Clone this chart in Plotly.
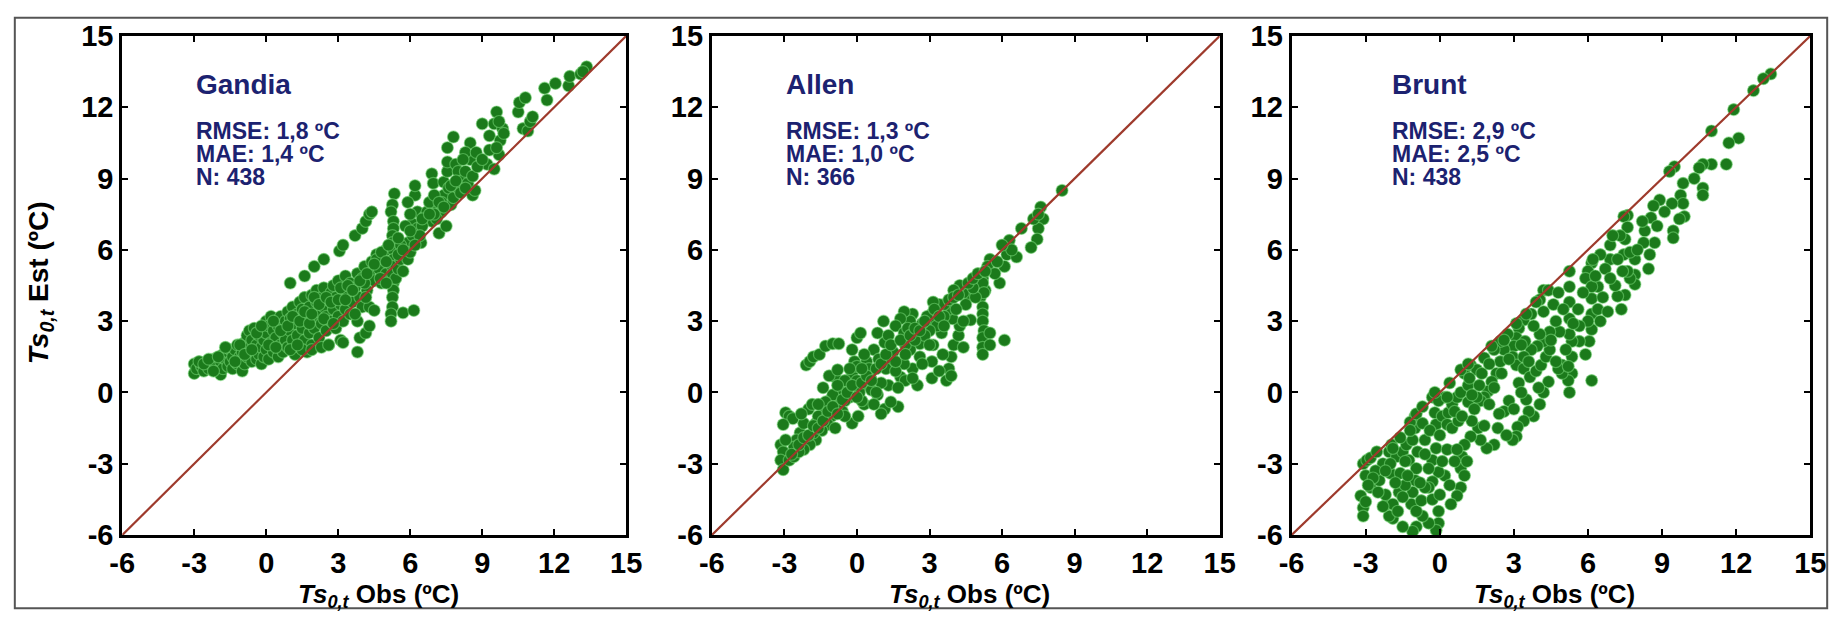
import plotly.graph_objects as go

# ---------------- data ----------------
gandia_pts = [
    (-3.0,1.2),(-3.0,0.8),(-2.9,1.0),(-2.7,1.1),(-2.6,0.9),(-2.5,1.3),(-2.4,1.0),(-2.3,1.2),(-2.2,1.4),(-2.1,1.1),
    (-2.0,0.9),(-1.9,0.75),(-1.9,1.3),(-1.8,1.6),(-1.8,1.0),(-1.7,1.4),(-1.6,1.7),(-1.6,1.1),(-1.5,1.3),(-1.5,1.8),
    (-1.4,1.0),(-1.4,1.5),(-1.3,1.8),(-1.2,1.2),(-1.2,2.0),(-1.1,1.5),(-1.0,0.9),(-1.0,1.7),(-0.9,1.2),(-0.9,2.1),
    (-0.8,1.5),(-0.8,2.4),(-0.7,1.9),(-0.7,2.6),(-0.6,1.3),(-0.6,2.2),(-0.5,1.7),(-0.5,2.7),(-0.4,1.4),(-0.4,2.0),
    (-0.3,1.6),(-0.3,2.4),(-0.2,1.2),(-0.2,1.9),(-0.1,2.2),(-0.1,1.5),(0.0,1.8),(0.0,2.5),(0.0,3.0),(0.1,1.4),
    (0.1,2.8),(0.2,2.1),(0.2,3.2),(0.3,1.7),(0.3,2.6),(0.4,2.3),(0.4,3.0),(0.5,1.5),(0.5,2.8),(0.6,2.0),
    (0.6,3.2),(0.7,2.5),(0.7,1.7),(0.8,3.0),(0.8,2.2),(0.9,3.4),(0.9,1.9),(1.0,2.6),(1.0,3.1),(1.1,2.2),
    (1.1,3.6),(1.2,1.6),(1.2,2.9),(1.3,3.3),(1.3,2.4),(1.4,3.8),(1.4,1.9),(1.5,2.7),(1.5,3.5),(1.6,2.2),
    (1.6,4.0),(1.7,3.0),(1.7,1.7),(1.8,3.6),(1.8,2.5),(1.9,4.1),(1.9,2.0),(2.0,3.2),(2.0,2.7),(2.1,3.8),
    (2.1,4.3),(2.2,2.3),(2.2,3.4),(2.3,4.0),(2.3,2.9),(2.4,3.6),(2.4,4.4),(2.5,2.6),(2.5,3.2),(2.6,2.0),
    (2.6,3.9),(2.7,4.2),(2.7,3.0),(2.8,3.5),(2.8,4.5),(2.9,2.7),(2.9,4.0),(3.0,3.2),(3.0,4.7),(3.1,3.7),
    (3.1,2.2),(3.2,4.3),(3.2,3.0),(3.3,3.5),(3.3,4.9),(3.4,4.1),(3.5,3.3),(3.5,4.6),(3.6,3.8),(3.7,4.4),
    (3.8,3.0),(3.8,5.0),(3.9,4.0),(4.0,3.6),(4.0,4.8),(4.1,5.3),(4.2,4.3),(4.3,5.0),(4.4,5.5),(4.5,4.7),
    (4.6,5.8),(4.7,5.2),(4.8,4.6),(4.9,5.6),(5.0,6.0),(5.0,5.0),
    (1.5,1.8),(1.9,1.8),(2.3,1.9),(2.6,2.0),(3.2,2.1),(3.8,1.7),(3.9,2.3),(4.15,2.5),(4.3,2.8),(4.3,3.6),
    (4.5,3.45),(4.15,4.0),(4.1,4.6),
    (1.0,4.6),(1.6,4.9),(2.0,5.3),(2.4,5.6),(3.05,5.95),(3.2,6.2),(3.7,6.6),(4.0,6.9),(4.15,7.2),(4.3,7.5),(4.4,7.6),
    (5.34,8.36),(5.26,7.9),(5.2,7.6),(5.3,7.2),(5.3,6.9),(5.26,6.6),(5.26,6.3),(5.3,6.0),(5.3,5.6),(5.26,5.3),
    (5.26,5.0),(5.3,4.6),(5.3,4.3),(5.26,4.0),(5.26,3.6),(5.2,3.3),(5.2,3.0),(5.7,3.35),(6.15,3.45),(5.4,4.8),
    (5.5,5.2),(5.6,5.6),
    (4.6,5.6),(4.75,4.8),(5.0,4.6),(5.7,5.1),(5.9,5.6),(5.9,6.3),(6.1,6.6),(6.1,7.1),(6.3,7.6),(6.2,8.3),
    (6.2,8.7),(5.9,8.0),(6.45,6.3),(6.6,7.4),(6.7,7.6),(6.9,7.2),(6.96,7.9),(6.9,9.2),(6.96,8.8),(7.2,6.7),
    (7.3,7.6),(7.4,8.3),(7.4,8.85),(7.55,9.3),(7.55,9.7),(7.55,10.3),(7.8,10.75),(7.9,9.6),(7.5,7.0),(7.7,7.9),
    (8.0,9.3),(8.15,8.9),(8.3,9.3),(8.5,10.5),(8.5,9.8),(8.6,8.3),(8.7,8.5),(8.4,8.8),(8.3,10.1),(8.75,10.1),
    (9.0,11.3),(9.2,9.6),(9.3,10.8),(9.5,11.3),(9.5,9.4),(9.6,11.8),(9.7,10.0),(9.75,10.6),(9.85,11.1),(9.7,11.4),
    (6.0,5.9),(6.3,6.9),(6.5,7.0),(6.8,8.0),(7.1,7.3),(7.3,8.0),(7.6,8.6),(7.8,8.2),(8.0,8.6),(8.2,9.8),
    (7.0,7.5),(5.6,6.2),(5.8,7.0),(6.0,7.5),(5.5,5.8),(6.4,6.6),
    (10.5,11.8),(10.55,12.2),(10.8,12.4),(10.7,11.1),(10.9,11.0),(11.0,11.4),(11.1,11.6),(11.6,12.8),(11.7,12.3),
    (12.05,13.0),(12.6,12.9),(12.65,13.3),(13.1,13.4),(13.35,13.7),(13.2,13.5),
    (-2.8,1.3),(-2.6,1.2),(-2.4,1.4),(-2.2,0.9),(-2.0,1.5),(-1.7,1.9),(-1.3,1.3),(-1.1,2.0),(-0.9,1.6),(-0.6,1.8),
    (-0.4,2.5),(-0.2,2.8),(0.1,2.0),(0.3,3.0),(0.4,1.9),(0.6,2.6),(0.9,2.8),(1.0,1.8),(1.1,3.2),(1.3,2.0),
    (1.4,3.0),(1.6,3.4),(1.8,2.9),(1.9,3.3),(2.0,4.0),(2.2,3.7),(2.4,3.1),(2.5,4.0),(2.7,3.8),(2.8,2.9),
    (3.0,3.9),(3.1,4.4),(3.3,3.9),(3.4,4.5),(3.6,4.3),(3.7,3.3),(3.9,4.7),(4.2,5.0),(4.5,5.4),(4.8,5.9),
    (5.0,5.5),(5.1,6.2),(5.5,6.5),(5.7,6.0),(6.0,6.8),(6.2,6.2),(6.5,7.3),(6.8,7.5),(7.0,8.3),(7.2,8.0),
    (7.4,7.8),(7.7,8.7),(7.9,8.9),(8.1,8.4),(8.3,8.6),(8.6,9.1),(8.8,9.5),(9.0,9.8),(9.3,10.2),(9.6,10.3),(9.9,10.9),
]

allen_pts = [
    (8.48,8.5),(7.6,7.8),(7.7,7.3),(7.5,6.9),(7.45,6.45),(7.2,6.1),(7.3,7.3),(7.5,7.5),(6.8,6.9),(6.3,6.4),
    (6.2,5.8),(6.6,5.7),(6.1,5.3),(5.9,4.6),(5.5,5.6),(5.4,5.3),(5.2,4.8),(5.3,4.3),(5.1,4.0),(6.4,6.0),
    (6.0,6.2),(5.7,5.0),(5.8,5.5),
    (5.2,4.6),(5.25,4.2),(5.2,3.6),(5.2,3.3),(5.2,3.0),(5.25,2.6),(5.2,2.3),(5.2,1.9),(5.2,1.6),(5.5,2.5),
    (5.5,2.0),(6.1,2.2),(4.7,3.05),(4.65,4.05),(4.4,4.2),(4.25,4.5),(4.0,4.3),(3.9,3.9),(4.9,4.0),(4.8,4.4),
    (4.5,3.7),
    (3.7,0.5),(3.8,1.0),(3.9,1.5),(4.0,2.0),(4.2,2.4),(4.25,2.8),(3.95,3.1),(3.8,3.5),(3.6,3.7),(3.4,3.7),
    (3.15,3.8),(3.1,3.3),(3.15,2.0),(3.1,1.3),(3.1,0.6),(3.2,3.0),(3.5,2.5),(3.55,1.6),(3.3,2.8),(3.0,2.6),
    (3.6,3.2),(4.1,3.5),(4.4,1.9),
    (2.6,2.05),(2.5,2.6),(2.3,3.3),(2.2,3.0),(1.95,3.4),(1.8,3.1),(1.6,2.8),(1.95,2.5),(2.2,1.8),(2.3,1.0),
    (2.5,0.3),(1.95,1.2),(1.8,0.65),(1.4,1.3),(1.15,2.1),(1.1,3.0),(0.85,2.5),(0.7,1.8),(0.4,1.3),(0.55,0.65),
    (0.85,-0.1),(1.15,-0.7),(1.7,-0.6),(1.4,-0.4),(1.3,0.3),(1.0,-0.9),(2.8,2.4),(2.6,1.5),(2.9,3.2),(2.0,2.0),
    (1.5,1.7),(1.2,1.0),(2.0,0.5),(1.6,0.9),(2.7,2.9),(2.4,2.2),(1.3,2.4),(0.9,1.4),(1.0,0.4),(2.1,2.7),
    (0.0,2.3),(0.15,2.5),(-0.2,1.8),(-0.1,1.3),(-0.2,0.8),(-0.3,0.3),(-0.3,-0.2),(-0.2,-1.3),(0.05,-1.0),(0.3,-0.5),
    (0.4,0.3),(0.2,-0.35),(-0.5,-0.35),(-0.75,0.15),(-0.9,0.65),(-1.15,0.7),(-0.8,0.95),(0.0,0.5),(0.1,0.0),(0.6,0.1),
    (0.5,1.0),(0.3,1.6),(-0.5,0.5),(-0.6,-0.8),(0.7,-0.5),(0.0,1.1),
    (-2.1,1.15),(-1.95,1.3),(-1.8,1.5),(-1.55,1.6),(-1.3,1.95),(-1.0,2.05),(-0.75,2.05),
    (-0.8,-0.5),(-1.05,-1.0),(-1.2,-1.35),(-1.45,-1.6),(-1.7,-2.0),(-1.95,-2.2),(-2.2,-2.4),(-2.35,-1.7),(-2.5,-2.0),
    (-2.0,-0.7),(-1.85,-0.5),(-1.7,-1.3),(-1.4,-0.85),(-1.15,-0.35),(-0.5,-1.0),(-1.0,-0.1),(-1.3,-0.4),(-1.6,-1.0),
    (-2.2,-1.3),(-2.6,-2.3),(-1.8,-1.7),(-1.2,-0.9),(-0.9,-1.5),
    (-2.95,-0.85),(-2.8,-1.0),(-2.65,-1.1),(-3.05,-1.35),(-3.15,-2.2),(-3.05,-2.5),(-3.15,-2.85),(-3.05,-3.25),
    (-2.8,-2.85),(-2.95,-2.0),(-2.6,-2.7),(-2.4,-2.5),
    (-2.7,-2.6),(-2.4,-2.2),(-2.2,-1.9),(-2.0,-1.8),(-1.8,-1.4),(-1.6,-1.5),(-1.4,-1.2),(-1.2,-0.8),(-1.0,-0.6),
    (-0.8,-0.9),(-0.6,-0.3),(-0.4,0.0),(-0.2,0.3),(0.0,-0.2),(0.2,0.4),(0.4,0.7),(0.6,0.5),(0.8,1.0),(1.0,1.2),
    (1.2,1.6),(1.4,2.0),(1.6,1.3),(1.8,2.2),(2.0,1.6),(2.2,2.4),(2.4,2.7),(2.6,2.6),(2.8,3.0),(3.0,2.0),
    (3.2,3.5),(3.4,3.2),(3.6,2.8),(3.8,3.9),(4.0,4.0),(4.2,4.1),(4.4,3.0),(4.6,4.6),(4.8,4.8),(5.0,5.0),
    (5.3,5.1),(-1.6,-0.5),(-2.3,-0.9),(-0.3,1.0),(0.2,1.0),(0.8,0.0),(1.7,0.2),(2.3,0.6),(2.7,1.2),(3.4,0.9),
    (3.9,0.7),(-0.8,0.3),(-1.4,0.2),
]

brunt_pts = [
    (13.4,13.4),(13.1,13.2),(12.7,12.7),(11.9,11.9),(11.0,11.0),(9.5,9.5),(9.3,9.3),(7.6,7.45),(7.45,7.4),
    (12.1,10.7),(11.7,10.5),(11.6,9.6),(11.0,9.6),(10.65,9.6),(10.5,9.45),(10.65,8.6),(10.65,8.3),(9.85,8.8),
    (9.75,8.3),(9.85,7.95),(9.9,7.4),(9.7,7.3),(9.4,7.95),(8.9,8.1),(8.65,7.85),(8.55,7.35),(9.45,6.8),(9.45,6.5),
    (8.7,6.3),(8.3,6.8),(8.25,6.3),(8.5,5.8),(8.45,5.2),(7.9,5.6),(7.9,4.95),(7.9,4.55),(7.7,4.8),(7.6,5.1),
    (7.4,5.1),(7.5,4.1),(7.35,3.5),(7.2,4.05),(7.45,5.8),(7.5,6.45),(7.6,6.95),(6.9,6.2),(6.9,5.6),(6.5,5.8),
    (6.15,5.45),(6.0,5.1),(5.9,4.8),(6.4,4.45),(6.15,4.45),(6.15,3.95),(6.15,3.3),(6.15,2.65),(6.05,2.15),(6.15,0.5),
    (6.0,3.0),(6.5,3.0),(6.4,3.5),(5.65,2.8),(5.65,2.15),(5.35,2.15),(5.35,1.5),(5.35,0.8),(5.25,0.0),(5.2,0.5),
    (4.95,0.8),(5.25,5.1),(5.25,4.45),(5.25,3.8),(5.25,3.1),(5.25,2.45),(5.1,1.8),(4.95,1.15),(4.8,1.0),(4.85,2.55),
    (4.7,3.0),(4.45,2.55),(7.7,5.9),(7.3,6.6),(6.7,5.2),(7.1,4.5),
    (4.2,4.3),(4.05,3.9),(3.7,3.3),(3.4,3.05),(3.2,2.7),(3.1,2.3),(3.0,1.95),(2.95,1.5),(3.1,1.15),(3.4,1.0),
    (3.65,0.65),(3.9,0.9),(4.1,1.15),(4.3,1.5),(4.45,1.8),(4.2,2.15),(3.95,1.95),(4.05,2.45),(3.7,1.8),(3.45,2.15),
    (3.4,1.5),(2.6,1.8),(2.45,1.3),(2.3,0.8),(2.1,0.45),(1.95,0.05),(1.8,-0.2),(1.65,-0.35),(2.45,2.15),(2.2,1.8),
    (4.4,0.45),(4.2,0.0),(4.05,-0.5),(3.8,-1.0),(3.6,-0.8),(3.4,-1.2),(3.15,-1.45),(3.1,-1.85),(2.95,-2.0),(2.8,-0.35),
    (2.6,-0.8),(2.35,-1.5),(2.2,-2.2),(1.9,-2.35),(1.65,-2.0),(1.55,-1.5),(1.3,-1.2),(1.25,-1.85),(1.0,-2.2),(0.9,-2.7),
    (0.85,-3.2),(1.0,-3.5),(0.85,-4.0),(0.7,-4.35),(0.45,-4.7),(0.2,-3.5),(-0.05,-3.35),(-0.3,-3.75),(-0.45,-4.0),
    (-0.05,-5.0),(-0.05,-5.5),(-0.15,-5.8),(-0.45,-5.5),(-0.7,-5.2),(-0.95,-5.65),(-1.1,-5.85),(-1.5,-5.65),
    (-1.9,-5.3),(-2.05,-5.2),(-2.15,-4.7),(-1.9,-4.7),(-1.65,-4.2),
    (-3.1,-3.0),(-2.95,-2.85),(-2.8,-2.75),(-3.0,-3.5),(-3.2,-4.35),(-3.1,-4.85),(-3.1,-5.2),(-2.8,-4.0),(-2.45,-3.7),
    (-2.3,-3.0),(-2.05,-2.5),(-1.95,-2.2),(-1.75,-2.7),(-1.5,-2.5),(-1.35,-2.2),(-1.25,-2.85),(-1.1,-2.0),(-1.0,-1.5),
    (-1.0,-1.0),(-0.95,-3.2),(-1.0,-3.7),(-1.1,-4.2),(-1.15,-4.7),(-0.95,-5.0),(-0.75,-4.55),(-0.6,-4.0),(-0.3,-0.2),
    (-0.2,-0.85),(-0.15,-1.35),(-0.15,-2.35),(-0.3,-2.85),(-0.45,-3.2),(0.1,-1.0),(0.35,-0.85),(0.5,-0.5),(0.7,-0.2),
    (0.85,0.0),(1.15,0.3),(1.0,0.8),(1.25,1.15),(1.5,0.95),(1.7,0.8),(0.2,-0.2),(-0.05,-0.35),(0.3,-1.35),(0.5,-1.5),
    (0.75,-1.2),(1.15,-0.4),(1.5,-0.2),
    (-2.55,-2.5),(-1.9,-2.35),(-1.2,-1.25),(-0.95,-0.9),(-0.2,0.0),(0.85,0.95),(1.15,1.2),(1.8,1.45),(2.1,1.95),
    (2.75,2.45),(3.1,2.9),(3.5,3.3),(3.9,3.8),(4.4,4.3),(-2.0,-3.4),(-1.6,-3.4),(-0.6,-2.0),(-0.7,-1.3),(0.3,-2.4),
    (0.6,-2.9),(-1.4,-3.9),(-2.6,-3.3),(-2.2,-4.3),
    (-2.7,-3.6),(-2.5,-4.2),(-2.3,-4.8),(-2.0,-3.0),(-1.8,-3.8),(-1.7,-5.0),(-1.5,-4.4),(-1.3,-3.5),(-1.2,-1.6),
    (-0.9,-2.5),(-0.8,-3.8),(-0.6,-2.6),(-0.4,-1.6),(-0.3,-4.5),(0.0,-1.8),(0.0,-4.3),(0.1,-2.9),(0.3,-0.2),
    (0.4,-3.9),(0.6,-0.8),(0.7,-2.4),(0.9,-1.0),(1.1,-2.9),(1.2,0.6),(1.4,-0.7),(1.6,0.3),(1.8,-1.4),(2.0,-0.5),
    (2.0,1.2),(2.2,0.2),(2.4,-0.9),(2.5,0.8),(2.7,-1.8),(2.8,1.4),(3.0,-0.7),(3.2,0.4),(3.3,2.0),(3.5,-0.3),
    (3.6,1.3),(3.8,2.8),(4.0,0.2),(4.2,3.4),(4.5,2.2),(4.6,3.7),(4.7,1.3),(4.8,4.2),(5.0,3.5),(5.2,1.1),
    (5.4,2.9),(5.6,3.5),(5.8,4.2),(5.9,1.6),(6.2,5.6),(6.3,4.9),(6.6,4.0),(6.8,3.4),(6.9,4.8),(7.2,5.6),
    (7.0,6.6),(8.0,6.0),(8.2,7.2),(8.8,7.0),(9.1,7.6),(10.3,9.0),(-2.9,-3.9),(-3.0,-4.6),(-2.2,-3.3),(-1.4,-2.9),
    (-1.6,-1.9),(-0.7,-0.6),(0.4,0.4),(1.3,-0.1),(2.6,2.2),(3.3,0.0),
]

panel_names = ["Gandia", "Allen", "Brunt"]
rmse_vals = ["1,8", "1,3", "2,9"]
mae_vals = ["1,4", "1,0", "2,5"]
n_vals = ["438", "366", "438"]
tick_vals = [-6, -3, 0, 3, 6, 9, 12, 15]
axis_range = [-6, 15]
text_x = [-3.0, -3.0, -2.0]

# ---------------- figure ----------------
W, H = 1845, 626
x_px = [(111, 623), (710, 1226), (1299, 1826)]
y_px = (21, 547)

FONT = "Liberation Sans, Arial, sans-serif"
NAVY = "#1c2270"
GREEN = "#1b7a1b"
LINE = "#9e3a2c"

fig = go.Figure()
all_pts = [gandia_pts, allen_pts, brunt_pts]

for i, pts in enumerate(all_pts):
    xa = "x" if i == 0 else f"x{i+1}"
    ya = "y" if i == 0 else f"y{i+1}"
    xs = [p[0] for p in pts]
    ys = [p[1] for p in pts]
    fig.add_trace(go.Scatter(
        x=xs, y=ys, mode="markers", xaxis=xa, yaxis=ya, showlegend=False,
        marker=dict(size=12, color=GREEN, line=dict(width=1.2, color="rgba(120,215,120,0.55)")),
    ))
    fig.add_trace(go.Scatter(
        x=axis_range, y=axis_range, mode="lines", xaxis=xa, yaxis=ya, showlegend=False,
        line=dict(color=LINE, width=2.2),
    ))

axis_common = dict(
    range=axis_range, tickvals=tick_vals, ticktext=[str(v) for v in tick_vals],
    showline=True, linewidth=3, linecolor="black", mirror="ticks",
    ticks="inside", ticklen=6, tickwidth=2, tickcolor="black",
    showgrid=False, zeroline=False,
    tickfont=dict(family=FONT, size=29, color="black", weight="bold"),
)

layout = dict(
    width=W, height=H, margin=dict(l=0, r=0, t=0, b=0),
    paper_bgcolor="white", plot_bgcolor="white", showlegend=False,
)
for i in range(3):
    xk = "xaxis" if i == 0 else f"xaxis{i+1}"
    yk = "yaxis" if i == 0 else f"yaxis{i+1}"
    xa = "x" if i == 0 else f"x{i+1}"
    ya = "y" if i == 0 else f"y{i+1}"
    layout[xk] = dict(axis_common, domain=[x_px[i][0] / W, x_px[i][1] / W], anchor=ya)
    layout[yk] = dict(axis_common, domain=[1 - y_px[1] / H, 1 - y_px[0] / H], anchor=xa)
fig.update_layout(**layout)

annotations = []
for i in range(3):
    xa = "x" if i == 0 else f"x{i+1}"
    ya = "y" if i == 0 else f"y{i+1}"
    tx = text_x[i]
    annotations.append(dict(x=tx, y=12.95, xref=xa, yref=ya, text=f"<b>{panel_names[i]}</b>",
                            showarrow=False, xanchor="left", yanchor="middle",
                            font=dict(family=FONT, size=28, color=NAVY)))
    lines = [f"<b>RMSE: {rmse_vals[i]} ºC</b>", f"<b>MAE: {mae_vals[i]} ºC</b>", f"<b>N: {n_vals[i]}</b>"]
    for j, (t, yv) in enumerate(zip(lines, [11.0, 10.05, 9.05])):
        annotations.append(dict(x=tx, y=yv, xref=xa, yref=ya, text=t, showarrow=False,
                                xanchor="left", yanchor="middle",
                                font=dict(family=FONT, size=23, color=NAVY)))
    # x axis title
    cx = (x_px[i][0] + x_px[i][1]) / 2 / W
    annotations.append(dict(x=cx + 4 / W, y=1 - 611 / H, xref="paper", yref="paper",
                            text="<b><i>Ts</i><sub><i>0,t</i></sub> Obs (ºC)</b>", showarrow=False,
                            xanchor="center", yanchor="middle",
                            font=dict(family=FONT, size=26, color="black")))

annotations.append(dict(x=28 / W, y=1 - 281 / H, xref="paper", yref="paper",
                        text="<b><i>Ts</i><sub><i>0,t</i></sub> Est (ºC)</b>", showarrow=False,
                        textangle=-90, xanchor="center", yanchor="middle",
                        font=dict(family=FONT, size=28, color="black")))
fig.update_layout(annotations=annotations)

# outer frame of the captured picture
fig.add_shape(type="rect", xref="paper", yref="paper", x0=0.001, x1=0.999, y0=0.003, y1=0.997,
              line=dict(color="#555555", width=2))

fig.write_html(
    "out.html",
    config={"displayModeBar": False},
    post_script="document.body.style.margin='0';document.body.style.overflow='hidden';",
)
